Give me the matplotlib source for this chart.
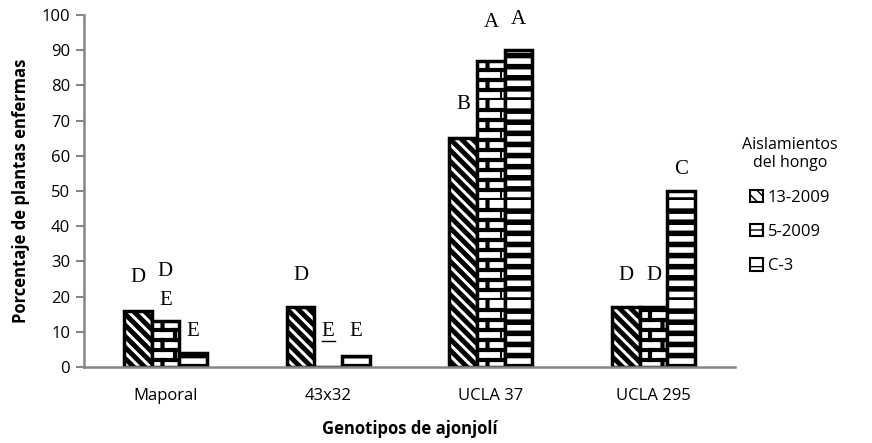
import numpy as np
import matplotlib.pyplot as plt
from matplotlib import hatch as mhatch
from matplotlib.path import Path

genotipos = ['Maporal', '43x32', 'UCLA 37', 'UCLA 295']
aislamientos = ['13-2009', '5-2009', 'C-3']
v_13_2009 = [16, 17, 65, 17]
v_5_2009 = [13, 0, 87, 17]
v_c3 = [4, 3, 90, 50]

# letras de separacion de medias: (genotipo, aislamiento, letra, altura)
letras = [
    (0, 0, 'D', 25.3), (0, 1, 'D', 27.0), (0, 1, 'E', 18.8), (0, 2, 'E', 10.2),
    (1, 0, 'D', 25.9), (1, 1, 'E', 10.2), (1, 2, 'E', 10.2),
    (2, 0, 'B', 74.7), (2, 1, 'A', 98.0), (2, 2, 'A', 98.6),
    (3, 0, 'D', 25.9), (3, 1, 'D', 25.9), (3, 2, 'C', 56.0),
]


class LadrilloHatch(mhatch.HatchPatternBase):
    # 'b' -> ladrillos, 'h' -> rayas horizontales gruesas
    def __init__(self, hatch, density):
        self.brick = 'b' in hatch
        self.horiz = 'h' in hatch
        if self.brick:
            self.rows, self.cols = 10, 4
            self.num_vertices = self.rows * 2 + self.rows * self.cols * 2
        elif self.horiz:
            self.rows, self.cols = 9, 0
            self.num_vertices = self.rows * 2
        else:
            self.num_vertices = 0

    def set_vertices_and_codes(self, vertices, codes):
        k = 0
        for i in range(self.rows):
            y0 = i / self.rows
            vertices[k] = (0, y0)
            vertices[k + 1] = (1, y0)
            codes[k] = Path.MOVETO
            codes[k + 1] = Path.LINETO
            k += 2
            for j in range(self.cols):
                xv = (j + 0.5 * (i % 2)) / self.cols
                vertices[k] = (xv, y0)
                vertices[k + 1] = (xv, y0 + 1 / self.rows)
                codes[k] = Path.MOVETO
                codes[k + 1] = Path.LINETO
                k += 2


mhatch._hatch_types.append(LadrilloHatch)

sans = ['Open Sans', 'DejaVu Sans']
serif = ['Liberation Serif', 'DejaVu Serif']
gris = '#868686'

fig = plt.figure(figsize=(8.72, 4.43), dpi=100)
ax = fig.add_axes([84/872, 1 - 367/443, 651/872, 352/443])

x = np.arange(len(genotipos))
w = 0.17
series = [v_13_2009, v_5_2009, v_c3]
hatches = ['\\\\\\', 'b', 'h']
hatch_lw = [3.5, 3.0, 4.0]
for i, (vals, h, lab) in enumerate(zip(series, hatches, aislamientos)):
    with plt.rc_context({'hatch.linewidth': hatch_lw[i]}):
        ax.bar(x + (i - 1) * w, vals, w, color='white', edgecolor='black',
               hatch=h, linewidth=2.5, label=lab, zorder=2)

for g, s, txt, yv in letras:
    ax.text(g + (s - 1) * w, yv, txt, ha='center', va='center',
            fontsize=15, family=serif)
    if g == 1 and s == 1:
        ax.plot([g - 0.04, g + 0.04], [yv - 2.7, yv - 2.7], color='black', lw=1)

ax.set_xlim(-0.5, 3.5)
ax.set_ylim(0, 100)
ax.set_yticks(np.arange(0, 101, 10))
ax.set_xticks(x)
ax.set_xticklabels(genotipos, family=sans, fontsize=12)
for lbl in ax.get_yticklabels():
    lbl.set_family(sans)
    lbl.set_fontsize(12)
ax.tick_params(axis='x', length=0, pad=15)
ax.tick_params(axis='y', length=6, width=1.5, color=gris, pad=4)
for sp in ['top', 'right']:
    ax.spines[sp].set_visible(False)
for sp in ['left', 'bottom']:
    ax.spines[sp].set_color(gris)
    ax.spines[sp].set_linewidth(1.8)
    ax.spines[sp].set_zorder(3)

ax.set_ylabel('Porcentaje de plantas enfermas', family=sans, fontsize=12,
              fontweight='bold', labelpad=8)
ax.set_xlabel('Genotipos de ajonjolí', family=sans, fontsize=12,
              fontweight='bold', labelpad=12)

handles, labels = ax.get_legend_handles_labels()
leg = fig.legend(handles, labels, title='Aislamientos\ndel hongo',
                 loc='upper center', bbox_to_anchor=(0.906, 0.725),
                 frameon=False, handlelength=0.75, handleheight=0.75,
                 handletextpad=0.3, labelspacing=1.1,
                 prop={'family': sans, 'size': 12})
leg.get_title().set_fontfamily(sans)
leg.get_title().set_fontsize(11.5)
leg.get_title().set_multialignment('center')
for p in leg.get_patches():
    p.set_linewidth(1.5)

fig.savefig('out.png', dpi=100)
